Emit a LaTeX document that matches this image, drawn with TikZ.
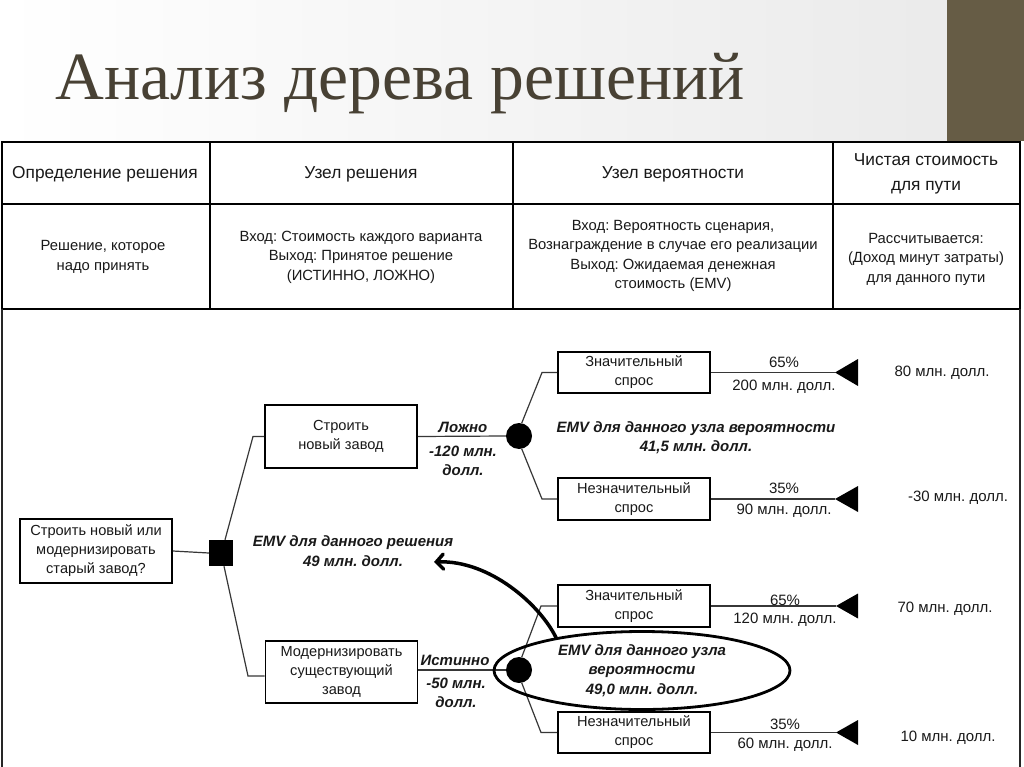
\documentclass[tikz,border=0pt]{standalone}
\usepackage{fontspec}
\setmainfont{Liberation Sans}
\newfontfamily\titlefont{Liberation Serif}
\usetikzlibrary{shapes.geometric,arrows.meta}
\definecolor{brownbar}{RGB}{102,92,69}
\definecolor{titlecol}{RGB}{72,65,52}
\definecolor{txt}{RGB}{25,25,25}
\definecolor{linegray}{RGB}{55,55,55}
\frenchspacing
\tikzset{
  tbl/.style={draw=black, line width=2pt},
  hdr/.style={font=\fontsize{17.3}{25.5}\selectfont, align=center, text=txt, inner sep=0},
  cell/.style={font=\fontsize{14.8}{19.5}\selectfont, align=center, text=txt, inner sep=0},
  tbox/.style={draw=black, line width=1.7pt, fill=white, minimum width=152pt, align=center,
     font=\fontsize{14.6}{19}\selectfont, text=txt, inner sep=0},
  lbl/.style={font=\fontsize{15}{19.5}\selectfont\bfseries\itshape, align=center, text=txt, inner sep=0},
  val/.style={font=\fontsize{15}{19}\selectfont, text=txt, inner sep=0},
  conn/.style={draw=linegray, line width=1.2pt},
  chance/.style={circle, fill=black, minimum size=26pt, inner sep=0},
  endtri/.style={fill=black}
}
\begin{document}
\begin{tikzpicture}[x=1pt,y=-1pt]
\useasboundingbox (0,0) rectangle (1024,767);
\fill[white] (0,0) rectangle (1024,767);
\shade[left color=white, right color=black!8] (0,0) rectangle (947,141);
\fill[brownbar] (947,0) rectangle (1024,141);
% title
\node[anchor=base west, font=\titlefont\fontsize{67.6}{68}\selectfont, text=titlecol, inner sep=0] (title) at (55,100) {Анализ дерева решений};
% table
\draw[tbl] (2,142) rectangle (1020,309);
\draw[tbl] (2,204) -- (1020,204);
\draw[tbl] (210,142) -- (210,309);
\draw[tbl] (513,142) -- (513,309);
\draw[tbl] (833,142) -- (833,309);
\draw[draw=black!85, line width=2pt] (2,309) -- (2,767);
\draw[draw=black!85, line width=2pt] (1020,309) -- (1020,767);
\node[hdr] (h1) at (105,174) {Определение решения};
\node[hdr] (h2) at (361,174) {Узел решения};
\node[hdr] (h3) at (673,174) {Узел вероятности};
\node[hdr] (h4) at (926,174) {Чистая стоимость\\для пути};
\node[cell] (r1) at (103,257) {Решение, которое\\надо принять};
\node[cell] (r2) at (361,257) {Вход: Стоимость каждого варианта\\Выход: Принятое решение\\(ИСТИННО, ЛОЖНО)};
\node[cell] (r3) at (673,256) {Вход: Вероятность сценария,\\Вознаграждение в случае его реализации\\Выход: Ожидаемая денежная\\стоимость (EMV)};
\node[cell] (r4) at (926,259) {Рассчитывается:\\(Доход минут затраты)\\для данного пути};
% tree nodes
\node[tbox, minimum height=64pt] (root) at (96,551) {Строить новый или\\модернизировать\\старый завод?};
\node[fill=black, minimum width=24pt, minimum height=26pt, inner sep=0] (dec) at (221,553) {};
\node[tbox, minimum height=63pt] (b1) at (341,436.5) {Строить\\новый завод};
\node[tbox, minimum height=62pt] (b2) at (341.5,672) {Модернизировать\\существующий\\завод};
\node[chance] (c1) at (519,436) {};
\node[chance] (c2) at (519,670) {};
\node[tbox, minimum height=41pt] (s1) at (634,372.5) {Значительный\\спрос};
\node[tbox, minimum height=42pt] (s2) at (634,499) {Незначительный\\спрос};
\node[tbox, minimum height=42pt] (s3) at (634,606) {Значительный\\спрос};
\node[tbox, minimum height=41pt] (s4) at (634,732.5) {Незначительный\\спрос};
% bend points and end points
\coordinate (k1) at (253,436.5);
\coordinate (k2) at (248,676);
\coordinate (k3) at (542,372.5);
\coordinate (k4) at (542,499);
\coordinate (k5) at (541,606);
\coordinate (k6) at (541,732.5);
\coordinate (e1) at (835,372.5);
\coordinate (e2) at (835,499);
\coordinate (e3) at (836,606);
\coordinate (e4) at (836,732.5);
% connectors
\draw[conn] (root.east) -- (dec.west);
\draw[conn] ([xshift=4pt]dec.north) -- (k1) -- (b1.west);
\draw[conn] ([xshift=3pt]dec.south) -- (k2) -- (k2 -| b2.west);
\draw[conn] (b1.east) -- (c1.west);
\draw[conn] (b2.east |- c2) -- (c2.west);
\draw[conn] (c1.78) -- (k3) -- (s1.west);
\draw[conn] (c1.-78) -- (k4) -- (s2.west);
\draw[conn] (c2.78) -- (k5) -- (s3.west);
\draw[conn] (c2.-78) -- (k6) -- (s4.west);
\draw[conn] (s1.east) -- (e1);
\draw[conn] (s2.east) -- (e2);
\draw[conn] (s3.east) -- (e3);
\draw[conn] (s4.east) -- (e4);
\fill[endtri] (e1) -- ++(23,-13.5) -- ++(0,27) -- cycle;
\fill[endtri] (e2) -- ++(23,-13) -- ++(0,26) -- cycle;
\fill[endtri] (e3) -- ++(22,-12.5) -- ++(0,25) -- cycle;
\fill[endtri] (e4) -- ++(22,-12.5) -- ++(0,25) -- cycle;
% branch labels
\node[lbl] (l1a) at (463,427) {Ложно};
\node[lbl] (l1b) at (463,461) {-120 млн.\\долл.};
\node[lbl] (l2a) at (455,660) {Истинно};
\node[lbl] (l2b) at (456,693) {-50 млн.\\долл.};
% probabilities
\node[val] (p1) at (784,362) {65\%};
\node[val] (q1) at (784,387) {200 млн. долл.};
\node[val] (p2) at (784,488) {35\%};
\node[val] (q2) at (784,511) {90 млн. долл.};
\node[val] (p3) at (785,600) {65\%};
\node[val] (q3) at (785,620) {120 млн. долл.};
\node[val] (p4) at (785,724) {35\%};
\node[val] (q4) at (785,745) {60 млн. долл.};
% path values
\node[val] (v1) at (942,373) {80 млн. долл.};
\node[val] (v2) at (958,498) {-30 млн. долл.};
\node[val] (v3) at (945,609) {70 млн. долл.};
\node[val] (v4) at (948,738) {10 млн. долл.};
% EMV texts
\node[lbl] (emv1) at (696,437.5) {EMV для данного узла вероятности\\41,5 млн. долл.};
\node[lbl] (emv0) at (353,551) {EMV для данного решения\\49 млн. долл.};
\node[ellipse, draw=black, line width=2.8pt, minimum width=296pt, minimum height=78pt, lbl] (emv2) at (642,670.5) {EMV для данного узла\\вероятности\\49,0 млн. долл.};
\coordinate (a0) at (434,562);
\draw[line width=3.5pt, line cap=round, -{Straight Barb[length=7pt,width=15pt,line cap=round]}] (emv2.159) .. controls (540,605) and (490,560) .. (a0);
\end{tikzpicture}
\end{document}
